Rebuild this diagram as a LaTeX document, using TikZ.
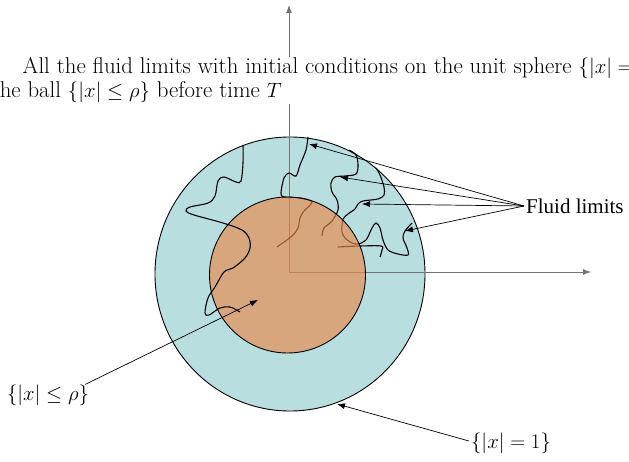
\documentclass[tikz,border=0pt]{standalone}
\usepackage{fontspec}
\usepackage{amsmath}
\usetikzlibrary{arrows.meta}
\newfontfamily\timesfont{Liberation Serif}
\definecolor{sphereblue}{HTML}{B9DEE0}
\definecolor{ballorange}{HTML}{E98848}

\begin{document}
\begin{tikzpicture}[
  x=1pt, y=-1pt,
  axis/.style={-{Latex[length=8pt,width=6pt]}, black!55, line width=0.9pt},
  limit/.style={line width=1.1pt, smooth, tension=0.55},
  arrow/.style={-{Latex[length=8pt,width=6pt]}, line width=0.7pt},
  setlabel/.style={inner sep=2pt, font=\fontsize{22.5}{26}\selectfont}
]
  \useasboundingbox (0,0) rectangle (629,462);

  \draw[fill=sphereblue, line width=0.9pt] (290,274) ellipse [x radius=135, y radius=137];

  \coordinate (o) at (289,272);
  \coordinate (ytop) at (289,5);
  \coordinate (xend) at (591,272);
  \draw[axis] (o) -- (ytop);
  \draw[axis] (o) -- (xend);

  \draw[limit] plot coordinates {(308,137) (306,150) (300,165) (296,176) (289,173) (284,178) (281,193) (284,197) (300,198) (312,202) (304,211) (300,218) (298,228) (292,236) (277,247)};
  \draw[limit] plot coordinates {(349,150) (356,155) (358,165) (356,174) (345,176) (335,177) (331,183) (332,192) (337,200) (338,210) (332,221) (324,228) (322,236)};
  \draw[limit] plot coordinates {(376,168) (380,175) (384,187) (384,195) (378,199) (363,201) (358,204) (355,209) (348,214) (343,219) (342,226) (342,232) (345,238) (352,243) (358,244) (366,240) (372,228) (376,223) (380,228) (383,240) (388,250) (398,254) (408,255) (407,248) (403,238) (405,231) (412,223)};
  \draw[limit] plot coordinates {(338,247) (360,246) (381,246) (382,250) (380,257)};

  \fill[ballorange, fill opacity=0.65] (287.5,275) circle [radius=78];
  \draw[line width=0.9pt] (287.5,275) circle [radius=78];

  \draw[limit] plot coordinates {(243,145) (243,163) (241,181) (236,182) (224,177) (218,181) (215,196) (208,203) (190,207) (186,211) (194,215) (223,223) (242,230) (249,238) (250,248) (245,258) (233,268) (224,272) (215,287) (208,298) (205,313) (209,315) (220,308) (230,307) (240,312)};

  \node[anchor=base west, align=left, fill=white, inner sep=1pt, font=\fontsize{22.8}{24}\selectfont] (title) at (-9.5,98)
    {\hspace*{31pt}All the fluid limits with initial conditions on the unit sphere $\{|x|=1\}$\\
     the ball $\{|x|\le\rho\}$ before time $T$};

  \node[anchor=west, inner sep=2pt, font=\timesfont\fontsize{21}{25}\selectfont] (fluid) at (524,206) {Fluid limits};
  \coordinate (tipB) at (309,144);
  \coordinate (tipC) at (340,177);
  \coordinate (tipD) at (362,204);
  \coordinate (tipE) at (405,231);
  \draw[arrow] (fluid.west) -- (tipB);
  \draw[arrow] (fluid.west) -- (tipC);
  \draw[arrow] (fluid.west) -- (tipD);
  \draw[arrow] (fluid.west) -- (tipE);

  \node[setlabel] (rho) at (48,395) {$\{|x|\le\rho\}$};
  \coordinate (tipR) at (258,300);
  \draw[arrow] ([xshift=-6pt,yshift=-2pt]rho.north east) -- (tipR);

  \node[setlabel] (unit) at (511,443) {$\{|x|=1\}$};
  \coordinate (tipU) at (337,404);
  \draw[arrow] ([yshift=2pt]unit.west) -- (tipU);
\end{tikzpicture}
\end{document}
